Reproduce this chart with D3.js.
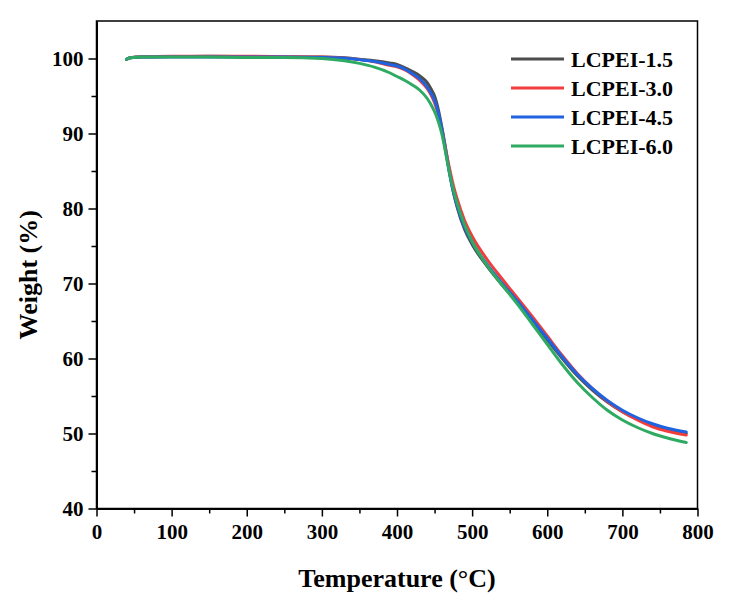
<!DOCTYPE html>
<html>
<head>
<meta charset="utf-8">
<script src="https://cdn.jsdelivr.net/npm/d3@7"></script>
<style>
  body { margin: 0; background: #fff; }
  text { font-family: "Liberation Serif", "Times New Roman", serif; font-weight: bold; fill: #000; }
</style>
</head>
<body>
<div id="chart"></div>
<script>
// TGA curves, weight (%) against temperature (degC)
var temps = [40, 45, 60, 100, 150, 200, 250, 300, 330, 350, 370, 390, 400, 410, 420, 430, 440, 445, 450, 455,
  460, 465, 470, 475, 480, 490, 500, 520, 540, 560, 580, 600, 620, 640, 660, 680, 700, 720, 740, 760, 785];

var w15 = [99.9, 100.1, 100.2, 100.25, 100.3, 100.25, 100.2, 100.2, 100.1, 99.9, 99.7, 99.4, 99.2, 98.8, 98.3, 97.7, 96.8, 96.0, 95.0, 93.2,
  90.7, 87.8, 84.8, 82.2, 80.2, 77.2, 75.2, 72.3, 69.8, 67.5, 65.0, 62.5, 60.0, 57.7, 55.8, 54.2, 52.9, 51.9, 51.1, 50.5, 50.0];
var w30 = [99.9, 100.1, 100.25, 100.3, 100.3, 100.3, 100.25, 100.2, 100.05, 99.85, 99.55, 99.1, 98.9, 98.5, 97.9, 97.1, 96.0, 95.2, 94.1, 92.5,
  90.4, 87.8, 85.3, 83.1, 81.3, 78.4, 76.3, 73.2, 70.6, 68.1, 65.6, 63.0, 60.4, 58.0, 56.0, 54.3, 52.9, 51.8, 50.9, 50.3, 49.8];
var w45 = [99.9, 100.1, 100.2, 100.2, 100.2, 100.2, 100.2, 100.15, 100.05, 99.85, 99.6, 99.2, 99.0, 98.6, 98.0, 97.3, 96.2, 95.4, 94.4, 92.8,
  90.4, 87.5, 84.6, 82.2, 80.4, 77.5, 75.5, 72.5, 70.0, 67.7, 65.2, 62.7, 60.2, 57.9, 56.0, 54.4, 53.1, 52.1, 51.3, 50.7, 50.2];
var w60 = [99.9, 100.1, 100.2, 100.2, 100.2, 100.15, 100.15, 100.0, 99.7, 99.35, 98.85, 98.1, 97.6, 97.1, 96.5, 95.8, 94.7, 93.9, 92.9, 91.6,
  89.8, 87.3, 84.7, 82.5, 80.7, 77.8, 75.6, 72.4, 69.8, 67.3, 64.6, 61.9, 59.2, 56.8, 54.8, 53.1, 51.8, 50.8, 50.0, 49.4, 48.8];

var names = ["LCPEI-1.5", "LCPEI-3.0", "LCPEI-4.5", "LCPEI-6.0"];
var colors = ["#4d4d4d", "#f23d3d", "#1f63e0", "#2eaa62"];
var xTicks = [0, 100, 200, 300, 400, 500, 600, 700, 800];
var yTicks = [40, 50, 60, 70, 80, 90, 100];

var width = 731, height = 607;
var plot = {left: 96.5, right: 697.5, top: 21, bottom: 508.5};

var svg = d3.select("#chart").append("svg")
    .attr("width", width)
    .attr("height", height);

var x = d3.scaleLinear().domain([0, 800]).range([plot.left, plot.right]);
var y = d3.scaleLinear().domain([40, 105]).range([plot.bottom, plot.top]);

/* frame: top and right plain lines */
svg.append("rect")
    .attr("x", plot.left)
    .attr("y", plot.top)
    .attr("width", plot.right - plot.left)
    .attr("height", plot.bottom - plot.top)
    .attr("fill", "none")
    .attr("stroke", "#000")
    .attr("stroke-width", 1.5);

/* minor ticks first, then the labelled axes */
function minorAxis(axis, vals) {
  return axis.tickValues(vals).tickSize(5).tickFormat("");
}
svg.append("g")
    .attr("transform", "translate(0," + plot.bottom + ")")
    .call(minorAxis(d3.axisBottom(x), d3.range(50, 800, 100)))
    .call(function (g) { g.select(".domain").remove(); })
    .selectAll("line").attr("stroke-width", 1.5);
svg.append("g")
    .attr("transform", "translate(" + plot.left + ",0)")
    .call(minorAxis(d3.axisLeft(y), d3.range(45, 105, 10)))
    .call(function (g) { g.select(".domain").remove(); })
    .selectAll("line").attr("stroke-width", 1.5);

var xAxis = svg.append("g")
    .attr("transform", "translate(0," + plot.bottom + ")")
    .call(d3.axisBottom(x).tickValues(xTicks).tickSize(8).tickSizeOuter(0).tickPadding(8));
var yAxis = svg.append("g")
    .attr("transform", "translate(" + plot.left + ",0)")
    .call(d3.axisLeft(y).tickValues(yTicks).tickSize(8).tickSizeOuter(0).tickPadding(5));

[xAxis, yAxis].forEach(function (g) {
  g.select(".domain").attr("stroke-width", 2);
  g.selectAll(".tick line").attr("stroke-width", 1.5);
  g.selectAll(".tick text")
      .attr("font-size", 21)
      .attr("font-family", null);
});

/* axis titles */
svg.append("text")
    .attr("x", (plot.left + plot.right) / 2)
    .attr("y", 587)
    .attr("text-anchor", "middle")
    .attr("font-size", 26)
    .text("Temperature (\u00B0C)");
svg.append("text")
    .attr("transform", "translate(37," + ((plot.top + plot.bottom) / 2 + 10) + ") rotate(-90)")
    .attr("text-anchor", "middle")
    .attr("font-size", 26)
    .text("Weight (%)");

/* curves */
var series = [w15, w30, w45, w60];
var line = d3.line()
    .x(function (d, i) { return x(temps[i]); })
    .y(function (d) { return y(d); })
    .curve(d3.curveMonotoneX);

svg.append("g").selectAll("path")
    .data(series)
    .join("path")
    .attr("d", line)
    .attr("fill", "none")
    .attr("stroke", function (d, i) { return colors[i]; })
    .attr("stroke-width", 3)
    .attr("stroke-linejoin", "round")
    .attr("stroke-linecap", "round");

/* legend */
var legend = svg.append("g").attr("transform", "translate(511,59)");
var rows = legend.selectAll("g")
    .data(names)
    .join("g")
    .attr("transform", function (d, i) { return "translate(0," + (i * 29) + ")"; });
rows.append("line")
    .attr("x1", 0).attr("x2", 53)
    .attr("stroke", function (d, i) { return colors[i]; })
    .attr("stroke-width", 3);
rows.append("text")
    .attr("x", 60)
    .attr("dy", "0.35em")
    .attr("font-size", 22)
    .text(function (d) { return d; });
</script>
</body>
</html>
